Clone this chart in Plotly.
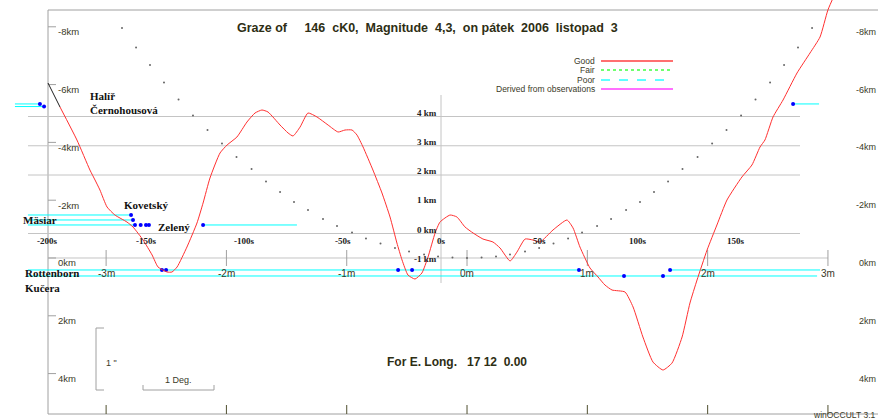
import plotly.graph_objects as go

# ------------------------------------------------------------------ data
# Lunar limb profile (time from central graze in seconds, height in profile km)
profile_sec = [-193.6, -185.0, -178.4, -175.8, -173.3, -169.7, -165.7, -159.6, -156.5, -151.4,
               -146.8, -143.8, -139.2, -136.7, -134.1, -129.1, -124.0, -120.9, -117.4, -112.3,
               -108.7, -103.7, -98.6, -94.5, -91.0, -87.9, -81.8, -77.7, -75.2, -71.6,
               -67.6, -63.0, -57.4, -52.3, -48.8, -45.2, -42.7, -39.6, -34.6, -30.0,
               -25.9, -22.4, -19.8, -16.8, -13.2, -9.7, -6.6, -3.0, -0.5, 4.6,
               8.1, 12.2, 16.3, 21.3, 26.4, 30.0, 35.1, 38.6, 42.7, 46.7,
               50.3, 56.9, 64.0, 67.1, 70.6, 75.7, 79.8, 83.3, 86.9, 93.5,
               97.6, 102.6, 107.7, 112.8, 117.4, 122.5, 126.5, 130.1, 135.2, 140.2,
               145.3, 152.9, 158.0, 162.1, 164.6, 168.7, 173.8, 180.9, 187.5, 192.6,
               196.6, 200.2]
profile_km = [4.325, 3.197, 2.171, 1.829, 1.487, 0.906, 0.632, 0.393, 0.222, -0.222,
              -0.735, -1.145, -1.316, -1.316, -1.145, -0.462, 0.359, 1.043, 1.897, 2.752,
              3.026, 3.299, 3.812, 4.120, 4.222, 4.154, 3.709, 3.436, 3.333, 3.641,
              4.120, 3.983, 3.709, 3.470, 3.538, 3.538, 3.368, 2.957, 2.171, 1.385,
              0.564, -0.325, -0.906, -1.419, -1.556, -1.350, -0.803, 0.017, 0.393, 0.632,
              0.564, 0.222, 0.017, -0.188, -0.291, -0.496, -0.940, -0.632, -0.188, -0.222,
              -0.291, 0.120, 0.462, 0.188, -0.462, -1.179, -1.487, -1.761, -1.932, -2.000,
              -2.513, -3.538, -4.393, -4.667, -4.427, -3.538, -2.376, -1.590, -0.564, 0.291,
              1.145, 1.932, 2.342, 2.957, 3.197, 3.983, 4.564, 5.487, 6.171, 6.718,
              7.641, 8.2]
# part of the profile outside the data limits (drawn black)
offlimb_sec = [-199.7, -193.6]
offlimb_km = [5.145, 4.325]

# Observer chords (seconds, offset in km from centre line)
chord_km = [-5.33, -5.24, -5.33, -1.488, -1.315, -1.142, -1.142, 0.415, 0.415, 0.623]
chord_start = [-216.5, -216.5, 178.9, -209.9, -209.9, -209.9, -120.9, -209.9, 116.4, -209.9]
chord_end = [-203.8, -201.7, 192.1, -157.5, -156.5, -155.5, -73.2, 70.1, 192.6, 191.1]

# Reported events (disappearances / reappearances)
event_sec = [-203.8, -201.7, 178.9, -157.5, -156.5, -155.5, -152.6, -149.9, -148.4, -120.9,
             -141.8, -139.7, -21.8, -14.7, 70.1, 116.4, 93.0, 112.8]
event_km = [-5.33, -5.24, -5.33, -1.488, -1.315, -1.142, -1.142, -1.142, -1.142, -1.142,
            0.415, 0.415, 0.415, 0.415, 0.415, 0.415, 0.623, 0.623]

# Limit line (minutes of longitude along track, km)
limit_min = [-2.868, -2.751, -2.635, -2.519, -2.398, -2.278, -2.157, -2.037, -1.916, -1.791,
             -1.671, -1.554, -1.438, -1.322, -1.197, -1.081, -0.956, -0.840, -0.719, -0.599,
             -0.482, -0.357, -0.241, -0.121, 0.0, 0.121, 0.241, 0.357, 0.482, 0.599,
             0.719, 0.840, 0.956, 1.081, 1.197, 1.322, 1.438, 1.554, 1.671, 1.791,
             1.916, 2.037, 2.157, 2.278, 2.398, 2.519, 2.635, 2.751, 2.868]
limit_km = [-7.958, -7.284, -6.678, -6.073, -5.484, -4.931, -4.429, -3.962, -3.495, -3.080,
            -2.647, -2.284, -1.938, -1.661, -1.349, -1.107, -0.882, -0.675, -0.502, -0.346,
            -0.225, -0.121, -0.052, -0.017, 0.0, -0.017, -0.052, -0.121, -0.225, -0.346,
            -0.502, -0.675, -0.882, -1.107, -1.349, -1.661, -1.938, -2.284, -2.647, -3.080,
            -3.495, -3.962, -4.429, -4.931, -5.484, -6.073, -6.678, -7.284, -7.958]

# Axis tick values / labels
sec_ticks = [-200, -150, -100, -50, 0, 50, 100, 150]
sec_labels = ['-200s', '-150s', '-100s', '-50s', '0s', '50s', '100s', '150s']
prof_km_ticks = [4, 3, 2, 1, 0, -1]
prof_km_labels = ['4 km', '3 km', '2 km', '1 km', '0 km', '-1 km']
prof_grid_km = [4, 3, 2, 0]
outer_km_ticks = [-8, -6, -4, -2, 0, 2, 4]
outer_km_labels = ['-8km', '-6km', '-4km', '-2km', '0km', '2km', '4km']
minute_ticks = [-3, -2, -1, 0, 1, 2, 3]
minute_labels = ['-3m', '-2m', '-1m', '0m', '1m', '2m', '3m']

observers = ['Halíř', 'Černohousová', 'Kovetský', 'Mäsiar', 'Zelený', 'Rottenborn', 'Kučera']
legend_labels = ['Good', 'Fair', 'Poor', 'Derived from observations']

title_text = 'Graze of     146  cK0,  Magnitude  4,3,  on pátek  2006  listopad  3'
long_text = 'For E. Long.   17 12  0.00'

# ------------------------------------------------------------------ layout helpers
W, H = 878, 420
SANS = 'Liberation Sans, Arial, sans-serif'
NARROW = 'Liberation Sans Narrow, Arial Narrow, Liberation Sans, Arial, sans-serif'
SERIF = 'Liberation Serif, Times New Roman, serif'
FRAME = '#a0a0a0'
GRID = '#c4c4c4'
TXT = '#3a3a28'


def px(x):
    return x / W


def py(y):
    return 1 - y / H


def nb(s):
    return s.replace(' ', '\u00a0')


fig = go.Figure()

# limit line dots
fig.add_trace(go.Scatter(x=limit_min, y=limit_km, xaxis='x2', yaxis='y', mode='markers',
                         marker=dict(size=2, color='#666666'), hoverinfo='skip'))

# chords
cx, cy = [], []
for k, a, b in zip(chord_km, chord_start, chord_end):
    cx += [a, b, None]
    cy += [k, k, None]
fig.add_trace(go.Scatter(x=cx, y=cy, xaxis='x', yaxis='y', mode='lines',
                         line=dict(color='#00ffff', width=1), hoverinfo='skip'))

# profile
fig.add_trace(go.Scatter(x=offlimb_sec, y=offlimb_km, xaxis='x', yaxis='y2', mode='lines',
                         line=dict(color='#202020', width=1), hoverinfo='skip'))
fig.add_trace(go.Scatter(x=profile_sec, y=profile_km, xaxis='x', yaxis='y2', mode='lines',
                         line=dict(color='#ff3030', width=1, shape='spline', smoothing=0.5),
                         hoverinfo='skip'))

# events
fig.add_trace(go.Scatter(x=event_sec, y=event_km, xaxis='x', yaxis='y', mode='markers',
                         marker=dict(size=4, color='#0000ff'), hoverinfo='skip'))

shapes = []
annotations = []


def line(x0, y0, x1, y1, xref='paper', yref='paper', color=FRAME, width=1, dash='solid'):
    shapes.append(dict(type='line', x0=x0, y0=y0, x1=x1, y1=y1, xref=xref, yref=yref,
                       line=dict(color=color, width=width, dash=dash), layer='below'))


def text(t, x, y, xref='paper', yref='paper', xanchor='center', size=10, color=TXT,
         family=SANS, bold=False, yshift=0, xshift=0):
    if bold:
        t = '<b>' + t + '</b>'
    annotations.append(dict(text=nb(t), x=x, y=y, xref=xref, yref=yref, xanchor=xanchor,
                            yanchor='middle', showarrow=False, yshift=yshift, xshift=xshift,
                            font=dict(size=size, color=color, family=family), borderpad=0))


# frame
line(px(48), py(10), px(878), py(10))
line(px(48), py(10), px(48), py(414))
line(px(48), py(414), px(878), py(414))

# profile grid lines
for g in prof_grid_km:
    line(px(28), g, px(800), g, yref='y2', color=GRID)
# outer zero line
line(px(48), 0, px(828), 0, yref='y', color=GRID)
# profile vertical axis (0 s)
line(0, py(95), 0, py(283), xref='x', color=GRID)

# outer km ticks and labels
for v, lab in zip(outer_km_ticks, outer_km_labels):
    line(px(48), v, px(56), v, yref='y', color=FRAME)
    text(lab, px(57), v, yref='y', xanchor='left', size=9.5, family=NARROW, yshift=-5)
    text(lab, px(877), v, yref='y', xanchor='right', size=9, family=NARROW, yshift=-5)

# profile km labels
for v, lab in zip(prof_km_ticks, prof_km_labels):
    text(lab, px(438), v, yref='y2', xanchor='right', size=9, family=SERIF, bold=True,
         color='#222222', yshift=4)

# seconds labels
for v, lab in zip(sec_ticks, sec_labels):
    text(lab, v, py(241), xref='x', size=9, family=SERIF, bold=True, color='#222222')

# minute ticks / labels
for v, lab in zip(minute_ticks, minute_labels):
    line(v, py(250), v, py(266), xref='x2', color=FRAME)
    line(v, py(405), v, py(414), xref='x2', color='#505030')
    text(lab, v, py(273), xref='x2', size=10, family=NARROW)

# title and longitude
text(title_text, px(427), py(28), size=12.5, bold=True, color='#2e2e14')
text(long_text, px(457), py(362), size=12, bold=True, color='#2e2e14')

# observer names
obs_pos = [(89, 96), (89, 110), (123, 205), (22, 220), (157, 227), (24, 273), (24, 288)]
for name, (ox, oy) in zip(observers, obs_pos):
    text(name, px(ox), py(oy), xanchor='left', size=11, family=SERIF, bold=True, color='#111111')

# legend
leg_y = [61, 70, 80, 89]
leg_style = [('#ff7070', 'solid'), ('#70ff70', 'dot'), ('#60ffff', 'dash'), ('#ff70ff', 'solid')]
for lab, ly, (col, dsh) in zip(legend_labels, leg_y, leg_style):
    text(lab, px(596), py(ly), xanchor='right', size=8.5, family=NARROW)
    line(px(601), py(ly), px(673), py(ly), color=col, width=2, dash=dsh)

# scale brackets
line(px(96), py(328), px(96), py(390))
line(px(96), py(328), px(104), py(328))
line(px(96), py(390), px(104), py(390))
text('1 "', px(105), py(363), xanchor='left', size=9, family=NARROW)
line(px(143), py(390), px(214), py(390))
line(px(143), py(385), px(143), py(390))
line(px(214), py(385), px(214), py(390))
text('1 Deg.', px(178), py(380), size=9, family=NARROW)

# program tag
text('winOCCULT 3.1', px(877), py(414.5), xanchor='right', size=8.5, family=NARROW)

fig.update_layout(
    width=W, height=H, margin=dict(l=0, r=0, t=0, b=0),
    paper_bgcolor='white', plot_bgcolor='white', showlegend=False,
    xaxis=dict(range=[-224.09, 222.05], visible=False, domain=[0, 1]),
    xaxis2=dict(range=[-3.882, 3.416], visible=False, overlaying='x', anchor='y'),
    yaxis=dict(range=[5.606, -8.927], visible=False, domain=[0, 1]),
    yaxis2=dict(range=[-6.376, 7.983], visible=False, overlaying='y', anchor='x'),
    shapes=shapes, annotations=annotations,
)

fig.write_html('out.html', config={'displayModeBar': False},
               post_script="document.body.style.margin='0';document.body.style.overflow='hidden';")
